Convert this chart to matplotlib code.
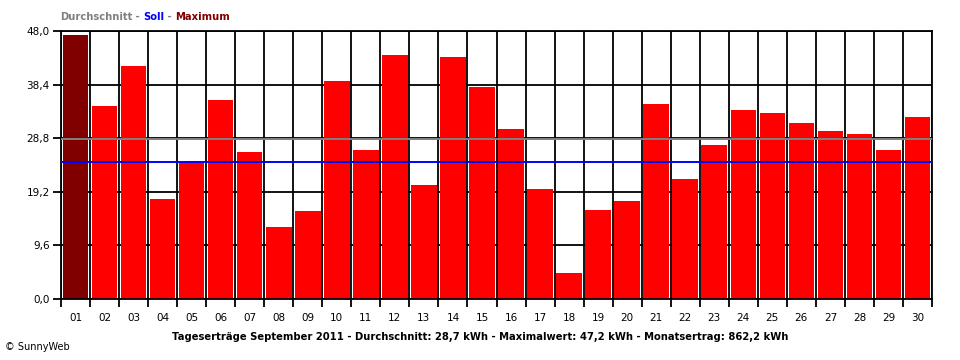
import matplotlib
matplotlib.use("Agg")
import matplotlib.pyplot as plt
import numpy as np

days = ["%02d" % d for d in range(1, 31)]
yields_kwh = [47.2, 34.6, 41.7, 17.9, 24.5, 35.6, 26.3, 12.9, 15.8, 39.0,
              26.7, 43.7, 20.4, 43.3, 38.0, 30.4, 19.7, 4.7, 15.9, 17.6,
              34.9, 21.5, 27.6, 33.9, 33.3, 31.5, 30.1, 29.6, 26.7, 32.6]
avg_kwh = 28.7
soll_kwh = 24.5
y_ticks = [0.0, 9.6, 19.2, 28.8, 38.4, 48.0]
title = "Tageserträge September 2011 - Durchschnitt: 28,7 kWh - Maximalwert: 47,2 kWh - Monatsertrag: 862,2 kWh"
legend_parts = [("Durchschnitt", "#808080"), (" - ", "#808080"), ("Soll", "#0000ff"),
                (" - ", "#808080"), ("Maximum", "#800000")]

plt.rcParams['font.family'] = ['DejaVu Sans']

fig = plt.figure(figsize=(9.6, 3.6), dpi=100)
ax = fig.add_axes([61 / 960, 1 - 299 / 360, (932 - 61) / 960, (299 - 31) / 360])

x = np.arange(1, len(days) + 1)
max_idx = int(np.argmax(yields_kwh))
colors = ["#ff0000"] * len(days)
colors[max_idx] = "#800000"
ax.bar(x, yields_kwh, width=0.88, color=colors, zorder=2)

ax.axhline(avg_kwh, color="#808080", lw=1.4, zorder=3)
ax.axhline(soll_kwh, color="#0000ff", lw=1.4, zorder=3)

ax.set_xlim(0.5, len(days) + 0.5)
ax.set_ylim(0, 48)
ax.set_xticks(x)
ax.set_xticklabels(days, fontsize=7.5)
ax.set_xticks(np.arange(0.5, len(days) + 1, 1.0), minor=True)
ax.tick_params(axis="x", which="major", length=0, pad=10)
ax.tick_params(axis="x", which="minor", length=6, width=1.3, color="black")
ax.set_yticks(y_ticks)
ax.set_yticklabels([("%.1f" % v).replace(".", ",") for v in y_ticks], fontsize=7.5)
ax.tick_params(axis="y", length=6, width=1.3, pad=2)

ax.set_axisbelow(True)
ax.grid(axis="y", which="major", color="black", lw=1.3)
ax.grid(axis="x", which="minor", color="black", lw=1.3)
for s in ax.spines.values():
    s.set_linewidth(1.3)

fig.text(0.5, 1 - 337 / 360, title, ha="center", va="center", fontsize=7.2, fontweight="bold")

# legend line at the top: colored words placed one after another
renderer = fig.canvas.get_renderer()
xpos = 60
for word, col in legend_parts:
    t = fig.text(xpos / 960, 1 - 17 / 360, word, color=col, fontsize=7.2,
                 fontweight="bold", va="center", ha="left")
    xpos += t.get_window_extent(renderer).width

fig.text(5 / 960, 1 - 347 / 360, "© SunnyWeb", fontsize=7, va="center")

fig.savefig("out.png", dpi=100, facecolor="white")
